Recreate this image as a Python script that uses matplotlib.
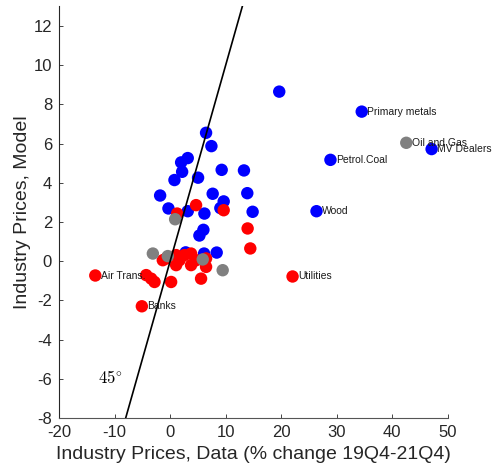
import matplotlib
matplotlib.use("Agg")
import matplotlib.pyplot as plt

plt.rcParams['font.family'] = ['Liberation Sans', 'DejaVu Sans']
plt.rcParams['mathtext.fontset'] = 'cm'
plt.rcParams['axes.unicode_minus'] = False

# Blue series
blue_x = [19.64, 34.49, 47.07, 28.86, 26.35, 6.47, 7.43, 3.17, 1.98, 2.16, 0.78, 5.03,
          9.28, 13.29, -1.80, 7.66, 13.89, 9.64, 9.04, -0.30, 3.17, 6.17, 14.85, 5.99,
          5.27, 6.11, 8.38, 2.80]
blue_y = [8.65, 7.63, 5.72, 5.17, 2.55, 6.55, 5.87, 5.26, 5.04, 4.56, 4.14, 4.26,
          4.66, 4.63, 3.35, 3.44, 3.47, 3.05, 2.71, 2.69, 2.55, 2.43, 2.52, 1.60,
          1.31, 0.39, 0.44, 0.45]

# Red series
red_x = [4.67, 1.26, 9.64, 13.95, 14.43, -0.72, 1.08, 1.68, 2.57, 3.77, 4.67, 3.77,
         1.08, 6.47, 6.47, 5.57, 0.18, -4.31, -2.81, -1.32, -3.41, -13.47, -5.09, 22.04]
red_y = [2.86, 2.43, 2.60, 1.67, 0.65, 0.14, 0.31, 0.05, 0.31, 0.39, 0.05, -0.20,
         -0.20, 0.14, -0.29, -0.89, -1.06, -0.71, -1.06, 0.05, -0.89, -0.73, -2.30, -0.78]

# Gray series
gray_x = [0.90, -3.11, -0.42, 5.87, 9.46, 42.51]
gray_y = [2.14, 0.39, 0.26, 0.09, -0.46, 6.04]

# Labels
label_names = ["Primary metals", "MV Dealers", "Petrol.Coal", "Wood", "Oil and Gas",
               "Air Trans.", "Banks", "Utilities"]
label_x = [34.49, 47.07, 28.86, 26.35, 42.51, -13.47, -5.09, 22.04]
label_y = [7.63, 5.72, 5.17, 2.55, 6.04, -0.73, -2.30, -0.78]

xticks = [-20, -10, 0, 10, 20, 30, 40, 50]
yticks = [-8, -6, -4, -2, 0, 2, 4, 6, 8, 10, 12]

fig = plt.figure(figsize=(4.96, 4.71), dpi=100)
ax = fig.add_axes([0.119, 0.1125, 0.784, 0.874])

ms = 80
ax.scatter(blue_x, blue_y, s=ms, color=(0, 0, 1), edgecolors='none', zorder=2)
ax.scatter(red_x, red_y, s=ms, color=(1, 0, 0), edgecolors='none', zorder=3)
ax.scatter(gray_x, gray_y, s=ms, color=(0.5, 0.5, 0.5), edgecolors='none', zorder=4)

ax.plot([-8, 13], [-8, 13], color='black', lw=1.2, zorder=5)
ax.text(-13.0, -5.95, r'$45^{\circ}$', fontsize=12, va='center', ha='left', color='black')

for name, x, y in zip(label_names, label_x, label_y):
    ax.annotate(name, (x, y), xytext=(4, 0), textcoords='offset points',
                fontsize=7.5, va='center', ha='left', color='#1a1a1a', zorder=6)

ax.set_xlim(-20, 50)
ax.set_ylim(-8, 13)
ax.set_xticks(xticks)
ax.set_yticks(yticks)
ax.spines['top'].set_visible(False)
ax.spines['right'].set_visible(False)
ax.spines['bottom'].set_color('#555555')
ax.spines['left'].set_color('#262626')
ax.spines['bottom'].set_linewidth(0.8)
ax.spines['left'].set_linewidth(0.8)
ax.tick_params(direction='in', length=3, width=0.6, labelsize=12, colors='#262626', pad=5)
ax.set_xlabel('Industry Prices, Data (% change 19Q4-21Q4)', fontsize=14, color='#262626', labelpad=4)
ax.set_ylabel('Industry Prices, Model', fontsize=14, color='#262626', labelpad=2)

fig.savefig('out.png', dpi=100)
